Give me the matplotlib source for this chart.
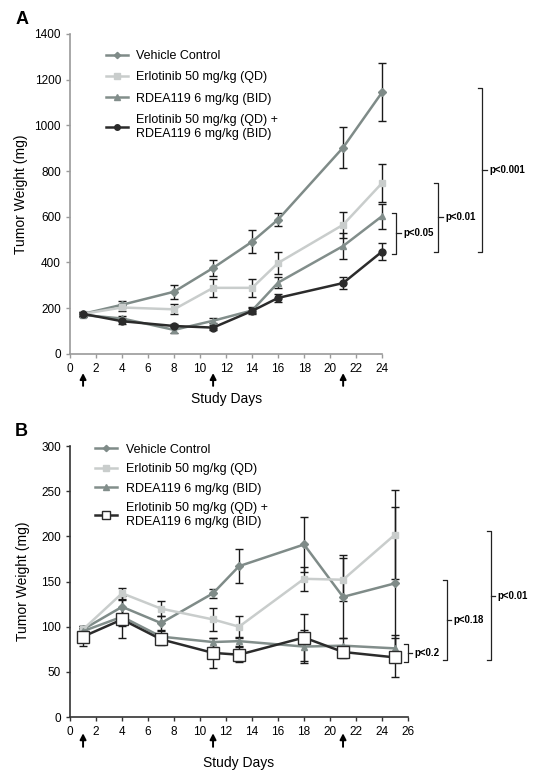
import matplotlib.pyplot as plt
from matplotlib.lines import Line2D

plt.rcParams['font.family'] = ['Liberation Sans', 'DejaVu Sans']

# ---- Panel A data ----
days_a = [1, 4, 8, 11, 14, 16, 21, 24]
veh_a = [175, 215, 272, 376, 491, 588, 903, 1145]
veh_a_err = [10, 15, 30, 35, 50, 30, 88, 127]
erl_a = [175, 203, 195, 289, 289, 398, 565, 748]
erl_a_err = [10, 15, 22, 40, 40, 48, 58, 85]
rdea_a = [170, 155, 105, 145, 190, 312, 472, 603]
rdea_a_err = [8, 12, 12, 10, 12, 25, 55, 55]
combo_a = [175, 143, 122, 115, 188, 245, 310, 448]
combo_a_err = [8, 12, 10, 10, 15, 18, 27, 36]

# ---- Panel B data ----
days_b = [1, 4, 7, 11, 13, 18, 21, 25]
veh_b = [97, 122, 104, 137, 167, 191, 133, 148]
veh_b_err = [4, 12, 8, 5, 19, 30, 46, 85]
erl_b = [97, 137, 120, 108, 100, 153, 152, 202]
erl_b_err = [4, 6, 8, 13, 12, 13, 24, 49]
rdea_b = [95, 111, 89, 83, 84, 78, 79, 76]
rdea_b_err = [4, 10, 6, 5, 5, 18, 8, 15]
combo_b = [89, 108, 86, 71, 69, 88, 72, 66]
combo_b_err = [10, 21, 6, 17, 8, 26, 7, 22]

labels = ['Vehicle Control', 'Erlotinib 50 mg/kg (QD)', 'RDEA119 6 mg/kg (BID)',
          'Erlotinib 50 mg/kg (QD) +\nRDEA119 6 mg/kg (BID)']
dose_days = [1, 11, 21]

c_veh = '#7f8b88'
c_erl = '#c9cdcc'
c_rdea = '#828e8b'
c_combo = '#2b2b2b'

fig = plt.figure(figsize=(5.39, 7.71), dpi=100)


def draw_series(ax, x, y, err, color, marker, mfc=None, ms=5):
    mec = color if mfc is None else '#2b2b2b'
    ax.errorbar(x, y, yerr=err, color=color, marker=marker, ms=ms, lw=1.8,
                mfc=mfc if mfc else color, mec=mec,
                ecolor='#1a1a1a', elinewidth=1.0, capsize=3, capthick=1.0,
                clip_on=False, zorder=3)
    return Line2D([], [], color=color, marker=marker, ms=ms * 0.8, lw=1.8,
                  mfc=mfc if mfc else color, mec=mec)


def bracket(ax, x, y0, y1, text, w=0.35):
    kw = dict(color='#222222', lw=0.9, clip_on=False)
    ax.plot([x - w, x, x, x - w], [y1, y1, y0, y0], **kw)
    ym = (y0 + y1) / 2
    ax.plot([x, x + w], [ym, ym], **kw)
    ax.text(x + w + 0.2, ym, text, fontsize=7, fontweight='bold',
            va='center', ha='left')


def style_axes(ax, spine_color):
    for s in ['top', 'right']:
        ax.spines[s].set_visible(False)
    for s in ['left', 'bottom']:
        ax.spines[s].set_color(spine_color)
        ax.spines[s].set_linewidth(1.2)
    ax.tick_params(labelsize=8.5, length=3, color=spine_color, width=1)


def arrows(ax, lo, hi):
    for d in dose_days:
        ax.annotate('', xy=(d, lo), xytext=(d, hi),
                    xycoords=ax.get_xaxis_transform(),
                    textcoords=ax.get_xaxis_transform(),
                    arrowprops=dict(arrowstyle='-|>,head_width=0.18,head_length=0.35',
                                    color='black', lw=1.4, shrinkA=0, shrinkB=0))


# ---- Panel A ----
ax1 = fig.add_axes([0.13, 0.541, 0.579, 0.415])
h1 = [draw_series(ax1, days_a, veh_a, veh_a_err, c_veh, 'D', ms=4),
      draw_series(ax1, days_a, erl_a, erl_a_err, c_erl, 's', ms=5),
      draw_series(ax1, days_a, rdea_a, rdea_a_err, c_rdea, '^', ms=5),
      draw_series(ax1, days_a, combo_a, combo_a_err, c_combo, 'o', ms=5)]
ax1.set_xlim(0, 24)
ax1.set_ylim(0, 1400)
ax1.set_xticks(range(0, 25, 2))
ax1.set_yticks(range(0, 1401, 200))
style_axes(ax1, '#9a9a9a')
ax1.set_ylabel('Tumor Weight (mg)', fontsize=10)
ax1.set_xlabel('Study Days', fontsize=10)
ax1.xaxis.set_label_coords(0.5, -0.12)
ax1.yaxis.set_label_coords(-0.135, 0.5)
ax1.legend(h1, labels, loc='upper left', bbox_to_anchor=(0.08, 0.985), frameon=False,
           fontsize=9, handlelength=1.7, handletextpad=0.7, labelspacing=0.75)
arrows(ax1, -0.06, -0.1)
bracket(ax1, 25.1, 437, 617, 'p<0.05')
bracket(ax1, 28.3, 446, 749, 'p<0.01')
bracket(ax1, 31.7, 446, 1164, 'p<0.001')
fig.text(0.028, 0.975, 'A', fontsize=13, fontweight='bold', va='center')

# ---- Panel B ----
ax2 = fig.add_axes([0.13, 0.070, 0.627, 0.3515])
h2 = [draw_series(ax2, days_b, veh_b, veh_b_err, c_veh, 'D', ms=4),
      draw_series(ax2, days_b, erl_b, erl_b_err, c_erl, 's', ms=5),
      draw_series(ax2, days_b, rdea_b, rdea_b_err, c_rdea, '^', ms=5),
      draw_series(ax2, days_b, combo_b, combo_b_err, c_combo, 's', mfc='white', ms=8)]
ax2.set_xlim(0, 26)
ax2.set_ylim(0, 300)
ax2.set_xticks(range(0, 27, 2))
ax2.set_yticks(range(0, 301, 50))
style_axes(ax2, '#333333')
ax2.set_ylabel('Tumor Weight (mg)', fontsize=10)
ax2.set_xlabel('Study Days', fontsize=10)
ax2.xaxis.set_label_coords(0.5, -0.145)
ax2.yaxis.set_label_coords(-0.12, 0.5)
ax2.legend(h2, labels, loc='upper left', bbox_to_anchor=(0.04, 1.05), frameon=False,
           fontsize=9, handlelength=1.8, handletextpad=0.7, labelspacing=0.6)
arrows(ax2, -0.06, -0.11)
bracket(ax2, 26.0, 61, 81, 'p<0.2', w=0.3)
bracket(ax2, 29.0, 63, 152, 'p<0.18', w=0.3)
bracket(ax2, 32.4, 63, 206, 'p<0.01', w=0.3)
fig.text(0.028, 0.44, 'B', fontsize=13, fontweight='bold', va='center')

fig.savefig('out.png', dpi=100)
